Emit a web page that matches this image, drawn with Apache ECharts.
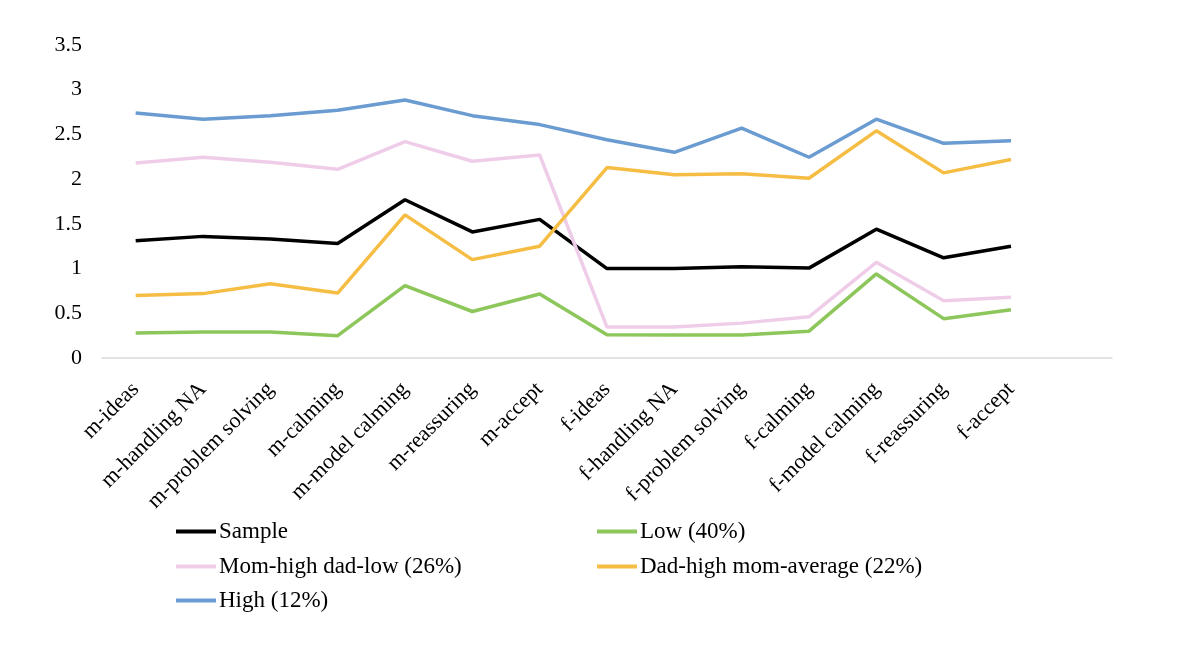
<!DOCTYPE html>
<html>
<head>
<meta charset="utf-8">
<script src="https://cdn.jsdelivr.net/npm/echarts@6/dist/echarts.min.js"></script>
<style>
  html, body { margin: 0; padding: 0; background: #fff; }
  #chart { width: 1200px; height: 668px; }
</style>
</head>
<body>
<div id="chart"></div>
<script>
// categories (last slot left empty, as in the original)
var categories = ['m-ideas', 'm-handling NA', 'm-problem solving', 'm-calming', 'm-model calming',
  'm-reassuring', 'm-accept', 'f-ideas', 'f-handling NA', 'f-problem solving', 'f-calming',
  'f-model calming', 'f-reassuring', 'f-accept', ''];

var sample    = [1.31, 1.36, 1.33, 1.28, 1.77, 1.41, 1.55, 1.00, 1.00, 1.02, 1.005, 1.44, 1.12, 1.25];
var low       = [0.28, 0.29, 0.29, 0.25, 0.81, 0.52, 0.715, 0.26, 0.257, 0.257, 0.30, 0.94, 0.44, 0.54];
var momHigh   = [2.18, 2.245, 2.19, 2.11, 2.42, 2.20, 2.27, 0.346, 0.346, 0.39, 0.46, 1.07, 0.64, 0.68];
var dadHigh   = [0.70, 0.72, 0.83, 0.726, 1.60, 1.10, 1.25, 2.13, 2.05, 2.06, 2.01, 2.54, 2.07, 2.22];
var high      = [2.74, 2.67, 2.71, 2.77, 2.885, 2.71, 2.61, 2.44, 2.30, 2.57, 2.245, 2.67, 2.40, 2.43];

var yTicks = { min: 0, max: 3.5, interval: 0.5 };

var font = '"Liberation Serif", "Times New Roman", serif';

var chart = echarts.init(document.getElementById('chart'), null, { renderer: 'canvas' });

function line(name, data, color) {
  return {
    name: name,
    type: 'line',
    data: data,
    symbol: 'none',
    lineStyle: { color: color, width: 3.5 },
    itemStyle: { color: color }
  };
}

function legendAt(name, left, top) {
  return {
    data: [name],
    left: left,
    top: top,
    icon: 'rect',
    itemWidth: 40,
    itemHeight: 4,
    itemGap: 0,
    padding: 0,
    textStyle: { fontFamily: font, fontSize: 23, color: '#000', padding: [0, 0, 0, -2] }
  };
}

var option = {
  backgroundColor: '#fff',
  animation: false,
  grid: { left: 102, right: 88, top: 45, bottom: 310, containLabel: false },
  legend: [
    legendAt('Sample', 176, 520),
    legendAt('Low (40%)', 597, 520),
    legendAt('Mom-high dad-low (26%)', 176, 555),
    legendAt('Dad-high mom-average (22%)', 597, 555),
    legendAt('High (12%)', 176, 589)
  ],
  xAxis: {
    type: 'category',
    data: categories,
    boundaryGap: true,
    axisLine: { lineStyle: { color: '#d9d9d9', width: 1.5 } },
    axisTick: { show: false },
    axisLabel: {
      rotate: 45,
      interval: 0,
      margin: 28,
      fontFamily: font,
      fontSize: 22,
      color: '#000'
    }
  },
  yAxis: {
    type: 'value',
    min: yTicks.min,
    max: yTicks.max,
    interval: yTicks.interval,
    splitLine: { show: false },
    axisLine: { show: false },
    axisTick: { show: false },
    axisLabel: { margin: 20, fontFamily: font, fontSize: 22, color: '#000' }
  },
  series: [
    line('Sample', sample, '#000000'),
    line('Low (40%)', low, '#8dc65a'),
    line('Mom-high dad-low (26%)', momHigh, '#efcde9'),
    line('Dad-high mom-average (22%)', dadHigh, '#f5bd43'),
    line('High (12%)', high, '#6a9bd1')
  ]
};

chart.setOption(option);
</script>
</body>
</html>
